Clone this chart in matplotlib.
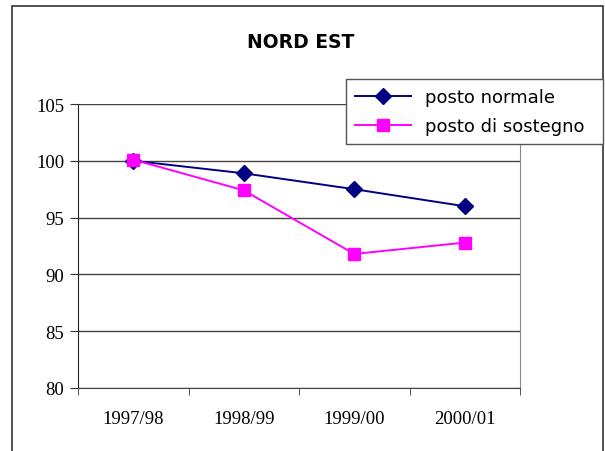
import matplotlib
matplotlib.use('Agg')
import matplotlib.pyplot as plt
from matplotlib.patches import Rectangle

years = ['1997/98', '1998/99', '1999/00', '2000/01']
normale = [100.0, 98.9, 97.5, 96.0]
sostegno = [100.1, 97.4, 91.8, 92.8]
y_ticks = [80, 85, 90, 95, 100, 105]

W, H = 605, 452
fig = plt.figure(figsize=(W / 100, H / 100), dpi=100)

# outer frame of the chart
fig.patches.append(Rectangle((12 / W, -0.01), (603 - 12) / W, 1 - 7 / H + 0.01,
                             transform=fig.transFigure, fill=False,
                             edgecolor='#333333', linewidth=1.2))

ax = fig.add_axes([78 / W, 1 - 389 / H, (520 - 78) / W, (389 - 105) / H])

x = list(range(len(years)))
ax.plot(x, normale, color='#000080', marker='D', markersize=8, linewidth=1.4,
        label='posto normale')
ax.plot(x, sostegno, color='#FF00FF', marker='s', markersize=9, linewidth=1.4,
        label='posto di sostegno')

ax.set_xlim(-0.5, len(years) - 0.5)
ax.set_ylim(80, 105)
ax.set_yticks(y_ticks)
ax.set_xticks(x)
ax.set_xticklabels(years)
ax.set_xticks([i - 0.5 for i in range(len(years) + 1)], minor=True)
ax.tick_params(axis='x', which='major', length=0, pad=16)
ax.tick_params(axis='x', which='minor', length=5, direction='out', color='#333333')
ax.tick_params(axis='y', length=6, direction='out', color='#333333', pad=4)
for lab in ax.get_xticklabels() + ax.get_yticklabels():
    lab.set_fontfamily('Liberation Serif')
    lab.set_fontsize(13.5)

ax.grid(axis='y', color='#444444', linewidth=1)
ax.set_axisbelow(True)
ax.spines['top'].set_visible(False)
ax.spines['right'].set_color('#888888')
ax.spines['left'].set_color('#222222')
ax.spines['bottom'].set_color('#444444')

fig.text(301 / W, 1 - 42 / H, 'NORD EST', ha='center', va='center',
         fontsize=13.5, fontweight='bold')

leg = fig.legend(loc='upper left',
                 bbox_to_anchor=(346 / W, 1 - 144 / H, (603 - 346) / W, 64 / H),
                 mode='expand', fancybox=False, edgecolor='#555555',
                 framealpha=1, fontsize=13, handlelength=3.1, handletextpad=0.8,
                 borderaxespad=0, borderpad=0.5, labelspacing=0.6)
leg.get_frame().set_linewidth(1)

fig.savefig('out.png', dpi=100)
